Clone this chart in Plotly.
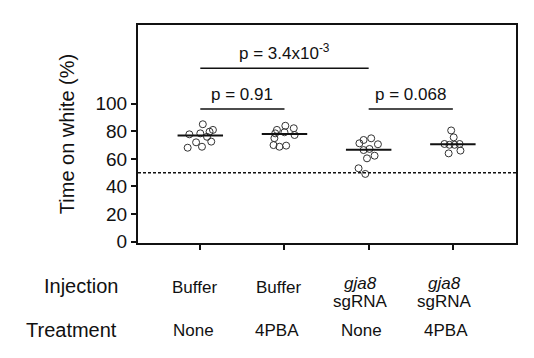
import plotly.graph_objects as go

# ---- data ----
groups = ["Buffer/None", "Buffer/4PBA", "gja8 sgRNA/None", "gja8 sgRNA/4PBA"]
injection_labels = ["Buffer", "Buffer", "<i>gja8</i>", "<i>gja8</i>"]
injection_labels2 = ["", "", "sgRNA", "sgRNA"]
treatment_labels = ["None", "4PBA", "None", "4PBA"]

g1_values = [85.1, 77.8, 78.5, 79.7, 81.0, 72.0, 72.5, 68.1, 68.8, 76.0]
g1_jitter = [0.03, -0.13, 0.0, 0.11, 0.15, -0.05, 0.13, -0.15, 0.02, 0.08]
g2_values = [84.0, 82.2, 81.0, 79.3, 78.5, 77.3, 75.0, 70.0, 69.6, 68.8]
g2_jitter = [0.01, 0.11, -0.09, 0.0, -0.11, 0.12, -0.12, -0.13, 0.02, -0.06]
g3_values = [74.9, 73.7, 71.3, 70.6, 67.2, 66.4, 62.3, 60.4, 53.2, 49.1]
g3_jitter = [0.03, -0.06, -0.11, 0.11, 0.01, -0.06, 0.07, -0.02, -0.12, -0.04]
g4_values = [80.6, 75.6, 70.8, 70.2, 70.2, 70.8, 66.0, 64.0]
g4_jitter = [-0.02, 0.01, -0.10, -0.04, 0.02, 0.08, 0.09, -0.05]

group_means = [77.0, 78.0, 66.7, 70.6]
chance_level = 50

comparisons = [(1, 2), (3, 4), (1, 3)]
comparison_heights = [96.2, 96.2, 125.6]
comparison_labels = ["p = 0.91", "p = 0.068", "p = 3.4x10<sup>-3</sup>"]

y_ticks = [0, 20, 40, 60, 80, 100]

# ---- figure ----
FONT = "Liberation Sans, Arial, Helvetica, sans-serif"
fig = go.Figure()

all_vals = [g1_values, g2_values, g3_values, g4_values]
all_jit = [g1_jitter, g2_jitter, g3_jitter, g4_jitter]
for i, (vals, jit) in enumerate(zip(all_vals, all_jit)):
    pos = i + 1
    fig.add_trace(go.Scatter(
        x=[pos + j for j in jit], y=vals, mode="markers",
        marker=dict(symbol="circle-open", size=7, color="#333333", line=dict(width=1)),
        showlegend=False, hoverinfo="y"))
    fig.add_trace(go.Scatter(
        x=[pos - 0.27, pos + 0.27], y=[group_means[i]] * 2, mode="lines",
        line=dict(color="#111111", width=2), showlegend=False, hoverinfo="skip"))

# chance line
fig.add_trace(go.Scatter(
    x=[0.26, 4.75], y=[chance_level, chance_level], mode="lines",
    line=dict(color="#111111", width=1.5, dash="3px,2px"),
    showlegend=False, hoverinfo="skip"))

# comparison brackets
for (a, b), h, lab in zip(comparisons, comparison_heights, comparison_labels):
    fig.add_trace(go.Scatter(
        x=[a, b], y=[h, h], mode="lines",
        line=dict(color="#111111", width=1.5), showlegend=False, hoverinfo="skip"))
    fig.add_annotation(x=(a + b) / 2, y=h, text=lab, showarrow=False,
                       yanchor="bottom", yshift=3,
                       font=dict(size=17, color="#111111", family=FONT))

# layout geometry helpers (plot area: px 25..243 vertical, 138..516 horizontal in window)
def py(px):
    return (243 - px) / 218

def pxx(px):
    return (px - 138) / 378

# category labels below axis
fig.add_annotation(xref="paper", yref="paper", x=pxx(81), y=py(286), text="Injection",
                   showarrow=False, xanchor="center", yanchor="middle",
                   font=dict(size=20, color="#111111", family=FONT))
fig.add_annotation(xref="paper", yref="paper", x=pxx(71), y=py(330), text="Treatment",
                   showarrow=False, xanchor="center", yanchor="middle",
                   font=dict(size=20, color="#111111", family=FONT))
for i in range(4):
    pos = i + 1
    if injection_labels2[i]:
        fig.add_annotation(x=pos, yref="paper", y=py(283), text=injection_labels[i],
                           showarrow=False, xanchor="center", yanchor="middle", xshift=-8,
                           font=dict(size=17, color="#111111", family=FONT))
        fig.add_annotation(x=pos, yref="paper", y=py(301), text=injection_labels2[i],
                           showarrow=False, xanchor="center", yanchor="middle", xshift=-8,
                           font=dict(size=17, color="#111111", family=FONT))
    else:
        fig.add_annotation(x=pos, yref="paper", y=py(287), text=injection_labels[i],
                           showarrow=False, xanchor="center", yanchor="middle", xshift=-6,
                           font=dict(size=17, color="#111111", family=FONT))
    fig.add_annotation(x=pos, yref="paper", y=py(330), text=treatment_labels[i],
                       showarrow=False, xanchor="center", yanchor="middle", xshift=-7,
                       font=dict(size=17, color="#111111", family=FONT))

# page body has an 8px margin, so the figure is offset by 8px; compensate
fig.update_layout(
    width=526, height=350,
    margin=dict(l=130, r=18, t=17, b=115),
    paper_bgcolor="white", plot_bgcolor="white",
    font=dict(family=FONT, color="#111111"),
    xaxis=dict(range=[0.26, 4.75], tickvals=[1, 2, 3, 4], showticklabels=False,
               ticks="outside", ticklen=5, tickwidth=1.5, tickcolor="#111111",
               showline=True, linecolor="#111111", linewidth=2, mirror=True,
               showgrid=False, zeroline=False),
    yaxis=dict(range=[-0.94, 157], tickvals=y_ticks, ticks="outside", ticklen=5,
               tickwidth=1.5, tickcolor="#111111",
               tickfont=dict(size=19, color="#111111", family=FONT),
               showline=True, linecolor="#111111", linewidth=2, mirror=True,
               showgrid=False, zeroline=False,
               title=dict(text="Time on white (%)", standoff=15,
                          font=dict(size=20, color="#111111", family=FONT))),
)

fig.write_html("out.html")
